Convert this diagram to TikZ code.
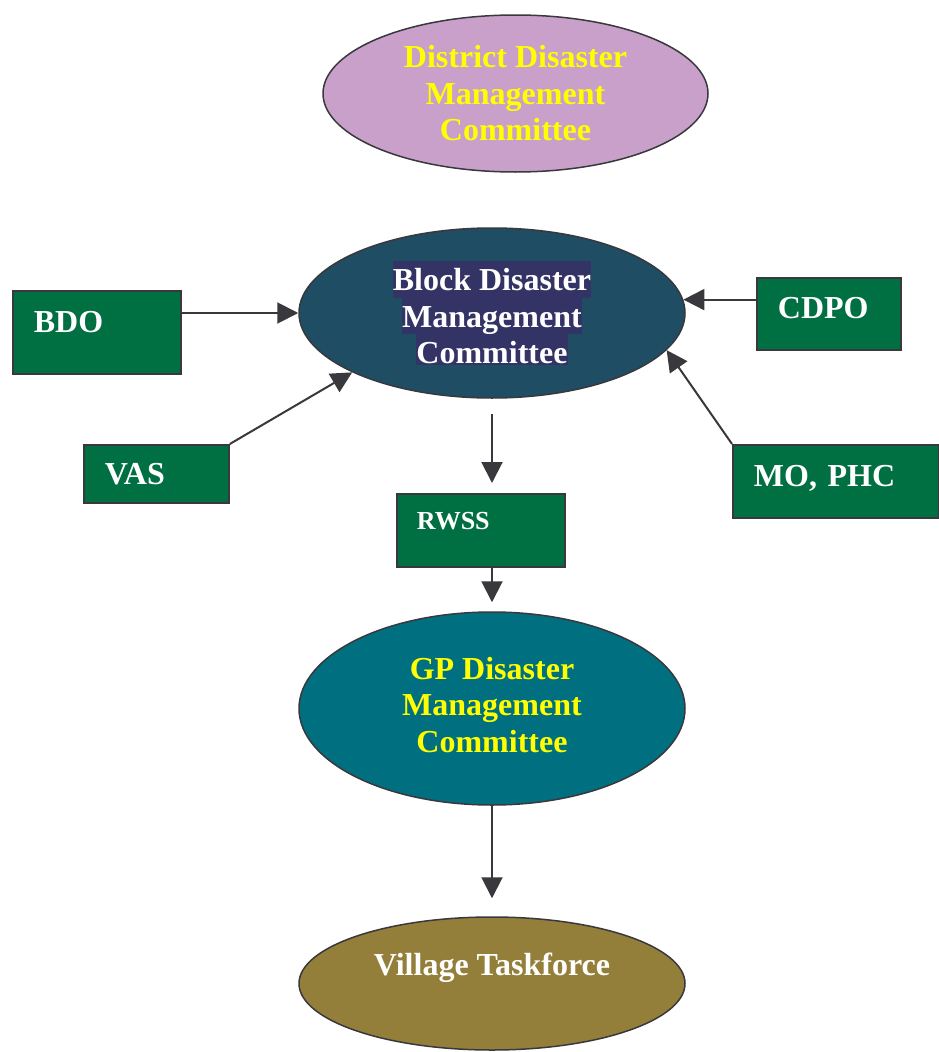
\documentclass[tikz,border=0pt]{standalone}
\usepackage{fontspec}
\setmainfont{Liberation Serif}
\usepackage{tikz}
\usetikzlibrary{positioning, arrows.meta, shapes.geometric}
\definecolor{lilac}{HTML}{C8A0C9}
\definecolor{blockblue}{HTML}{1F4D63}
\definecolor{hlblue}{HTML}{333366}
\definecolor{gpteal}{HTML}{007080}
\definecolor{olive}{HTML}{947F3A}
\definecolor{boxgreen}{HTML}{006F41}
\definecolor{linegray}{HTML}{38383D}
\definecolor{txtyellow}{HTML}{FFFF00}
\newcommand{\hlrow}[2][7pt]{{\setlength{\fboxsep}{0pt}\colorbox{hlblue}{\rule[-#1]{0pt}{\dimexpr29.5pt+#1\relax}#2}}}

\begin{document}
\lineskiplimit=-20pt\relax
\begin{tikzpicture}
	[x=1pt, y=-1pt,
	 bigfont/.style={font={\fontsize{32}{36.5}\selectfont\bfseries}},
	 oval/.style={ellipse, draw=linegray, line width=1.5pt, inner sep=0pt, align=center, bigfont},
	 gbox/.style={rectangle, draw=linegray, line width=1.8pt, fill=boxgreen, text=white,
	              anchor=north west, inner xsep=21pt, inner ysep=0pt, align=left, bigfont},
	 arr/.style={-{Triangle[length=21pt,width=21pt]}, line width=2pt, draw=linegray}]
	\useasboundingbox (0,0) rectangle (939,1052);
	% nodes %
	\node[oval, fill=lilac, text=txtyellow, minimum width=385pt, minimum height=157pt]
		(ddmc) at (515.5,93.5) {District Disaster\\Management\\Committee};
	\node[oval, fill=blockblue, text=white, minimum width=386pt, minimum height=170pt]
		(bdmc) at (492,313) {\hlrow{Block Disaster}\\\hlrow{Management}\\\hlrow[1pt]{Committee}};
	\node[oval, fill=gpteal, text=txtyellow, minimum width=386pt, minimum height=193pt, text depth=8pt]
		(gpdmc) at (492,708.5) {GP Disaster\\Management\\Committee};
	\node[oval, fill=olive, text=white, minimum width=386pt, minimum height=133pt, text depth=39pt]
		(vtf) at (492,983.5) {Village Taskforce};

	\node[gbox, text width=126pt, text height=42pt, text depth=41pt] (bdo) at (12,290) {BDO};
	\node[gbox, text width=102pt, text height=41pt, text depth=31pt] (cdpo) at (756,277) {CDPO};
	\node[gbox, text width=103pt, text height=40pt, text depth=18pt] (vas) at (83,444) {VAS};
	\node[gbox, text width=164pt, text height=42pt, text depth=31pt] (mo) at (732,444) {MO, PHC};
	\node[gbox, text width=128pt, inner xsep=20pt, text height=36pt, text depth=37pt,
	      font={\fontsize{26}{30}\selectfont\bfseries}] (rwss) at (396,493) {RWSS};

	% edges %
	\draw[arr] (bdo.east |- bdmc.west) -- (bdmc.west);
	\draw[arr] (cdpo.west |- bdmc.4) -- (bdmc.4);
	\draw[arr] (vas.north east) -- (bdmc.203);
	\draw[arr] (mo.north west) -- (bdmc.348);
	\draw[arr, shorten <=15pt, shorten >=10pt] (bdmc.south) -- (bdmc.south |- rwss.north);
	\draw[arr, shorten >=9pt] (gpdmc.north |- rwss.south) -- (gpdmc.north);
	\draw[arr, shorten >=18pt] (gpdmc.south) -- (vtf.north);
\end{tikzpicture}
\end{document}
